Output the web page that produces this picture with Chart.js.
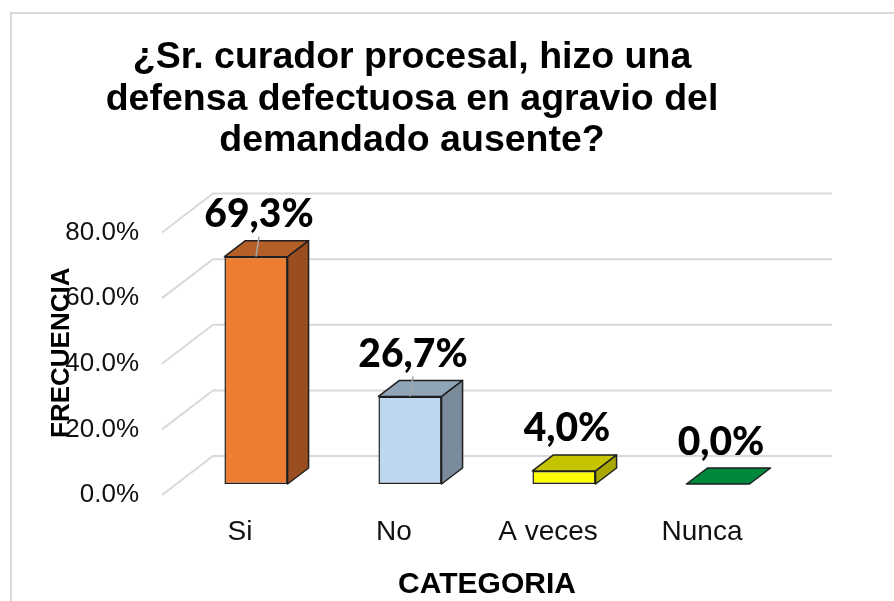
<!DOCTYPE html>
<html lang="es">
<head>
    <meta charset="UTF-8">
    <title>Curador procesal - defensa defectuosa</title>
    <script src="https://cdn.jsdelivr.net/npm/chart.js"></script>
    <style>
        html, body {
            margin: 0;
            padding: 0;
            background: #FFFFFF;
        }
        .wrap {
            position: relative;
            width: 894px;
            height: 601px;
            overflow: hidden;
        }
        /* light frame of the original chart object */
        .frame {
            position: absolute;
            left: 10px;
            top: 12px;
            width: 950px;
            height: 650px;
            border-left: 2px solid #D9D9D9;
            border-top: 2px solid #D9D9D9;
        }
        canvas {
            position: absolute;
            left: 0;
            top: 0;
        }
    </style>
</head>
<body>
<div class="wrap">
    <div class="frame"></div>
    <canvas id="chart" width="894" height="601"></canvas>
</div>

<script>
    // data
    const categories = ['Si', 'No', 'A veces', 'Nunca'];
    const percentages = [69.3, 26.7, 4.0, 0.0];
    const yTickLabels = ['0.0%', '20.0%', '40.0%', '60.0%', '80.0%'];
    const titleLines = [
        '¿Sr. curador procesal, hizo una',
        'defensa defectuosa en agravio del',
        'demandado ausente?'
    ];

    // face colours per bar: front / top / right side
    const frontColors = ['#ED7D31', '#BDD7EE', '#FFFF00', '#00A650'];
    const topColors = ['#B45F27', '#8FA4B7', '#C4C400', '#00873D'];
    const sideColors = ['#9A4E1F', '#7A8B9C', '#A8A800', '#006B30'];

    const ARIAL = '"Liberation Sans", Arial, sans-serif';
    const EDGE = '#1F1F1F';

    // 3d depth of the bars
    const BAR_DX = 21, BAR_DY = -16;

    const fmtLabel = v => v.toFixed(1).replace('.', ',') + '%';

    // floor diagonals + back wall gridlines
    const wallPlugin = {
        id: 'wall',
        beforeDatasetsDraw(chart) {
            const {ctx, chartArea, scales: {y}} = chart;
            ctx.save();
            ctx.strokeStyle = '#D9D9D9';
            ctx.lineWidth = 2;
            y.ticks.forEach(t => {
                const py = y.getPixelForValue(t.value);
                ctx.beginPath();
                ctx.moveTo(chartArea.left - 17, py + 11);
                ctx.lineTo(chartArea.left + 34, py - 28);
                ctx.lineTo(chartArea.right + 37, py - 28);
                ctx.stroke();
            });
            ctx.restore();
        }
    };

    // top and side faces, then the value labels
    const boxPlugin = {
        id: 'box3d',
        afterDatasetsDraw(chart) {
            const {ctx} = chart;
            const meta = chart.getDatasetMeta(0);
            ctx.save();
            ctx.lineWidth = 1.5;
            ctx.lineJoin = 'round';
            ctx.strokeStyle = EDGE;
            meta.data.forEach((bar, i) => {
                const {x, y, base, width} = bar.getProps(['x', 'y', 'base', 'width'], true);
                const L = x - width / 2, R = x + width / 2;

                if (base - y > 0.5) {
                    ctx.beginPath();
                    ctx.moveTo(R, y);
                    ctx.lineTo(R + BAR_DX, y + BAR_DY);
                    ctx.lineTo(R + BAR_DX, base + BAR_DY);
                    ctx.lineTo(R, base);
                    ctx.closePath();
                    ctx.fillStyle = sideColors[i];
                    ctx.fill();
                    ctx.stroke();
                }

                ctx.beginPath();
                ctx.moveTo(L, y);
                ctx.lineTo(R, y);
                ctx.lineTo(R + BAR_DX, y + BAR_DY);
                ctx.lineTo(L + BAR_DX, y + BAR_DY);
                ctx.closePath();
                ctx.fillStyle = topColors[i];
                ctx.fill();
                ctx.stroke();
            });

            ctx.font = '900 39px Lato, "Noto Sans", sans-serif';
            ctx.textAlign = 'center';
            ctx.textBaseline = 'middle';
            meta.data.forEach((bar, i) => {
                const {x, y} = bar.getProps(['x', 'y'], true);
                const lx = x + 3, ly = y - 42;
                if (percentages[i] > 10) {
                    ctx.strokeStyle = '#A6A6A6';
                    ctx.lineWidth = 1.5;
                    ctx.beginPath();
                    ctx.moveTo(lx, ly + 22);
                    ctx.lineTo(x, y);
                    ctx.stroke();
                }
                ctx.fillStyle = '#000000';
                ctx.fillText(fmtLabel(percentages[i]), lx, ly);
            });
            ctx.restore();
        }
    };

    // the title sits left of the canvas centre in the original
    const titlePlace = {
        id: 'titlePlace',
        afterLayout(chart) {
            const t = chart.titleBlock;
            if (t) {
                t.right = 2 * 412 - t.left;
            }
        }
    };

    new Chart(document.getElementById('chart'), {
        type: 'bar',
        data: {
            labels: categories,
            datasets: [{
                data: percentages,
                backgroundColor: frontColors,
                borderColor: EDGE,
                borderWidth: 1.5,
                borderSkipped: false,
                barPercentage: 0.41,
                categoryPercentage: 1.0
            }]
        },
        options: {
            responsive: false,
            animation: false,
            layout: {
                padding: {left: 0, right: 99, top: 0, bottom: 0}
            },
            plugins: {
                legend: {display: false},
                tooltip: {enabled: false},
                title: {
                    display: true,
                    text: titleLines,
                    color: '#000000',
                    font: {family: ARIAL, size: 37.5, weight: 'bold', lineHeight: 1.107},
                    padding: {top: 37, bottom: 60}
                }
            },
            scales: {
                x: {
                    grid: {display: false, drawTicks: false},
                    border: {display: false},
                    ticks: {
                        color: '#111111',
                        font: {family: ARIAL, size: 28},
                        padding: 31,
                        labelOffset: -16,
                        maxRotation: 0
                    },
                    title: {
                        display: true,
                        text: 'CATEGORIA',
                        color: '#000000',
                        font: {family: ARIAL, size: 30, weight: 'bold', lineHeight: 1},
                        padding: {top: 0, bottom: 1}
                    },
                    afterFit: s => { s.height = 117; }
                },
                y: {
                    min: 0,
                    max: 80,
                    grid: {display: false, drawTicks: false},
                    border: {display: false},
                    ticks: {
                        stepSize: 20,
                        color: '#111111',
                        font: {family: ARIAL, size: 26},
                        padding: 40,
                        labelOffset: 11,
                        callback: (v, i) => yTickLabels[i]
                    },
                    title: {
                        display: true,
                        text: 'FRECUENCIA',
                        color: '#000000',
                        font: {family: ARIAL, size: 26, weight: 'bold', lineHeight: 1.2},
                        padding: {top: 46, bottom: 0}
                    },
                    afterFit: s => { s.width = 179; }
                }
            }
        },
        plugins: [wallPlugin, boxPlugin, titlePlace]
    });
</script>
</body>
</html>
